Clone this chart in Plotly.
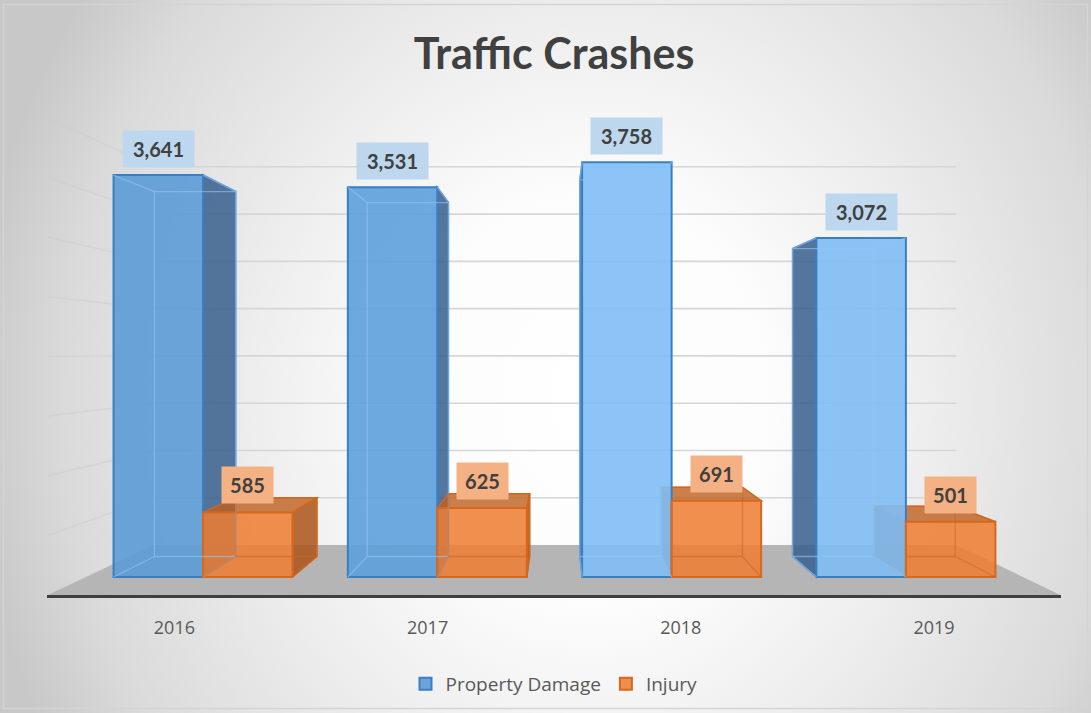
import base64
import plotly.graph_objects as go

# ---------------- data ----------------
years = ["2016", "2017", "2018", "2019"]
property_damage = [3641, 3531, 3758, 3072]
injury = [585, 625, 691, 501]
series_names = ["Property Damage", "Injury"]
chart_title = "Traffic Crashes"

# ---------------- style / pseudo-3D geometry ----------------
W, H = 1091, 713
ML, MR, MT, MB = 47, 30, 100, 118
X_RANGE = [-0.666, 3.662]
Y_RANGE = [-163, 4321]
BAR_W = 0.382
VANISH_X, VANISH_V = 1.515, 2020      # vanishing point in data units
K_BAR, K_WALL, K_FRONT = 0.092, 0.1435, -0.0807
GRID_STEP, GRID_MAX = 500, 4000
FLOOR_X = [-0.5, 3.5]

BLUE_FRONTS = ["rgba(91,155,213,0.9)", "rgba(93,158,218,0.9)",
               "rgba(128,190,246,0.9)", "rgba(126,188,244,0.9)"]
BLUE_EDGE = "#3a7fc1"
BLUE_SIDE = "rgba(55,95,140,0.85)"
BLUE_FAINT = "rgba(150,195,240,0.6)"
ORANGE_FRONT = "rgba(237,125,49,0.86)"
ORANGE_EDGE = "#d6691f"
ORANGE_SIDE = "rgba(170,85,25,0.85)"
ORANGE_TOP = "rgba(190,95,30,0.8)"
ORANGE_FAINT = "rgba(205,100,30,0.55)"
TEXT_DARK = "#404040"
TEXT_MID = "#595959"


def proj(x, v, k):
    return x + k * (VANISH_X - x), v + k * (VANISH_V - v)


def path(pts):
    return "M " + " L ".join(f"{x:.4f},{y:.2f}" for x, y in pts) + " Z"


shapes = []

# floor
fl = [proj(FLOOR_X[0], 0, K_FRONT), proj(FLOOR_X[1], 0, K_FRONT),
      proj(FLOOR_X[1], 0, K_WALL), proj(FLOOR_X[0], 0, K_WALL)]
shapes.append(dict(type="path", path=path(fl), xref="x", yref="y",
                   fillcolor="#b5b5b5", line=dict(width=0), layer="between"))

# back wall + left wall gridlines
for g in range(GRID_STEP, GRID_MAX + 1, GRID_STEP):
    bl = proj(FLOOR_X[0], g, K_WALL)
    br = proj(FLOOR_X[1], g, K_WALL)
    fr = proj(FLOOR_X[0], g, K_FRONT)
    shapes.append(dict(type="line", x0=bl[0], y0=bl[1], x1=br[0], y1=br[1],
                       xref="x", yref="y", line=dict(color="#d6d6d6", width=1.6),
                       layer="between"))
    shapes.append(dict(type="line", x0=fr[0], y0=fr[1], x1=bl[0], y1=bl[1],
                       xref="x", yref="y", line=dict(color="rgba(205,205,205,0.6)", width=1.4),
                       layer="between"))

group_x = list(range(len(years)))
blue_x = [i - BAR_W / 2 for i in group_x]
orange_x = [i + BAR_W / 2 for i in group_x]

faint = []


def add_line(p, q, col, clip_left=None):
    """Faint hidden edge; portion left of clip_left lies behind another bar."""
    segs = [(p, q, "above")]
    if clip_left is not None:
        (xa, ya), (xb, yb) = p, q
        if xa > xb:
            (xa, ya), (xb, yb) = (xb, yb), (xa, ya)
        if xb <= clip_left:
            segs = [((xa, ya), (xb, yb), "between")]
        elif xa < clip_left:
            t = (clip_left - xa) / (xb - xa)
            ym = ya + t * (yb - ya)
            segs = [((xa, ya), (clip_left, ym), "between"),
                    ((clip_left, ym), (xb, yb), "above")]
    for a, b, layer in segs:
        faint.append(dict(type="line", x0=a[0], y0=a[1], x1=b[0], y1=b[1], xref="x", yref="y",
                          line=dict(color=col, width=1.3), layer=layer))


def box_shapes(xc, val, side_col, top_col, edge_col, faint_col, clip_behind=False):
    x0, x1 = xc - BAR_W / 2, xc + BAR_W / 2
    if x1 < VANISH_X:
        sx = x1
    elif x0 > VANISH_X:
        sx = x0
    else:
        sx = None
    if sx is not None:
        pts = [proj(sx, 0, 0), proj(sx, val, 0), proj(sx, val, K_BAR), proj(sx, 0, K_BAR)]
        shapes.append(dict(type="path", path=path(pts), xref="x", yref="y",
                           fillcolor=side_col, line=dict(color=edge_col, width=1.5),
                           layer="between"))
    if val < VANISH_V and top_col:
        pts = [proj(x0, val, 0), proj(x1, val, 0), proj(x1, val, K_BAR), proj(x0, val, K_BAR)]
        shapes.append(dict(type="path", path=path(pts), xref="x", yref="y",
                           fillcolor=top_col, line=dict(color=edge_col, width=1.5),
                           layer="between"))
    clip = x0 if (clip_behind and sx == x0) else None
    b = [proj(x0, 0, K_BAR), proj(x1, 0, K_BAR), proj(x1, val, K_BAR), proj(x0, val, K_BAR)]
    f = [(x0, 0), (x1, 0), (x1, val), (x0, val)]
    for a in range(4):
        add_line(b[a], b[(a + 1) % 4], faint_col, clip)
        add_line(f[a], b[a], faint_col, clip)


for xc, v in zip(blue_x, property_damage):
    box_shapes(xc, v, BLUE_SIDE, None, BLUE_EDGE, BLUE_FAINT)
for xc, v in zip(orange_x, injury):
    box_shapes(xc, v, ORANGE_SIDE, ORANGE_TOP, ORANGE_EDGE, ORANGE_FAINT, clip_behind=True)
shapes.extend(faint)

fig = go.Figure()
fig.add_trace(go.Bar(x=blue_x, y=property_damage, width=BAR_W, name=series_names[0],
                     marker=dict(color=BLUE_FRONTS, line=dict(color=BLUE_EDGE, width=2))))
fig.add_trace(go.Bar(x=orange_x, y=injury, width=BAR_W, name=series_names[1],
                     marker=dict(color=ORANGE_FRONT, line=dict(color=ORANGE_EDGE, width=2))))

annotations = []
for xs, vals, bg, ys in ((blue_x, property_damage, "#bdd7ee", 7), (orange_x, injury, "#f4b183", 8)):
    for xc, v in zip(xs, vals):
        t = f"{v:,}"
        annotations.append(dict(x=xc, y=v, xref="x", yref="y", text=t, showarrow=False,
                                yanchor="bottom", yshift=ys, bgcolor=bg,
                                width=71 if len(t) > 3 else 51, height=36, borderpad=0,
                                font=dict(family="Lato", size=20, color=TEXT_DARK, weight="bold")))

# background radial gradient + frame
svg = f"""<svg xmlns='http://www.w3.org/2000/svg' width='{W}' height='{H}' viewBox='0 0 {W} {H}' preserveAspectRatio='none'>
<defs><radialGradient id='g' gradientUnits='userSpaceOnUse' cx='590' cy='400' r='620'
 gradientTransform='translate(590 400) scale(1 1.13) translate(-590 -400)'>
<stop offset='0' stop-color='#ffffff'/><stop offset='0.3' stop-color='#fcfcfc'/>
<stop offset='0.57' stop-color='#ececec'/><stop offset='0.85' stop-color='#dadada'/>
<stop offset='1' stop-color='#c8c8c8'/></radialGradient></defs>
<rect width='{W}' height='{H}' fill='url(#g)'/>
<rect x='3.5' y='4.5' width='{W-7}' height='{H-9}' fill='none' stroke='#d4d4d4' stroke-width='1.5'/>
</svg>"""
src = "data:image/svg+xml;base64," + base64.b64encode(svg.encode()).decode()
pw, ph = W - ML - MR, H - MT - MB

tick_pos = [proj(i, 0, K_FRONT)[0] for i in group_x]

fig.update_layout(
    width=W, height=H,
    margin=dict(l=ML, r=MR, t=MT, b=MB),
    paper_bgcolor="#ffffff", plot_bgcolor="rgba(0,0,0,0)",
    barmode="overlay",
    title=dict(text=chart_title, x=0.5, xanchor="center", xref="paper",
               y=1 - 54 / H, yanchor="middle", yref="container",
               font=dict(family="Lato", size=43, color=TEXT_DARK, weight="bold")),
    xaxis=dict(range=X_RANGE, tickvals=tick_pos, ticktext=years, showgrid=False,
               zeroline=False, showline=True, linecolor="#3f3f3f", linewidth=3,
               ticks="", ticklabelstandoff=14,
               tickfont=dict(family="Open Sans", size=18, color=TEXT_MID), fixedrange=True),
    yaxis=dict(range=Y_RANGE, visible=False, showgrid=False, zeroline=False, fixedrange=True),
    legend=dict(orientation="h", x=0.5, xanchor="center", y=29 / H, yanchor="middle",
                yref="container", font=dict(family="Open Sans", size=19, color=TEXT_MID),
                bgcolor="rgba(0,0,0,0)"),
    shapes=shapes,
    annotations=annotations,
    images=[dict(source=src, xref="paper", yref="paper", x=-ML / pw, y=1 + MT / ph,
                 sizex=W / pw, sizey=H / ph, xanchor="left", yanchor="top",
                 sizing="stretch", layer="below")],
    showlegend=True,
)

fig.write_html("out.html", config={"displayModeBar": False},
               post_script="document.body.style.margin='0';")
